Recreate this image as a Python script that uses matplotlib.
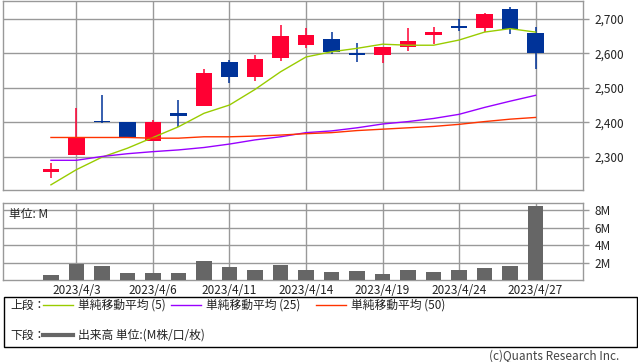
import matplotlib
matplotlib.use("Agg")
import matplotlib.pyplot as plt
from matplotlib.lines import Line2D
from matplotlib.patches import Rectangle

plt.rcParams["font.family"] = ["Noto Sans CJK JP", "DejaVu Sans"]

dates = ["3/31", "4/3", "4/4", "4/5", "4/6", "4/7", "4/10", "4/11", "4/12", "4/13",
         "4/14", "4/17", "4/18", "4/19", "4/20", "4/21", "4/24", "4/25", "4/26", "4/27"]
opens = [2257, 2305, 2405, 2401, 2347, 2427, 2447, 2574, 2532, 2586,
         2624, 2640, 2601, 2595, 2617, 2653, 2678, 2673, 2727, 2658]
highs = [2283, 2442, 2480, 2401, 2407, 2464, 2554, 2580, 2594, 2681,
         2672, 2660, 2630, 2617, 2673, 2675, 2698, 2715, 2735, 2675]
lows = [2240, 2305, 2399, 2357, 2347, 2386, 2447, 2514, 2520, 2577,
        2615, 2599, 2574, 2572, 2606, 2627, 2664, 2660, 2656, 2555]
closes = [2266, 2358, 2400, 2358, 2401, 2418, 2542, 2532, 2583, 2649,
          2652, 2604, 2596, 2617, 2635, 2660, 2674, 2712, 2669, 2600]
ma5 = [2219, 2263, 2299, 2325, 2356, 2387, 2426, 2450, 2495, 2546,
       2589, 2604, 2614, 2626, 2623, 2623, 2638, 2661, 2671, 2661]
ma25 = [2290, 2290, 2301, 2309, 2315, 2320, 2327, 2337, 2349, 2358,
        2370, 2375, 2384, 2395, 2402, 2411, 2423, 2443, 2461, 2478]
ma50 = [2356, 2356, 2356, 2356, 2354, 2354, 2358, 2358, 2360, 2363,
        2367, 2370, 2376, 2380, 2384, 2388, 2394, 2402, 2409, 2414]
volume_m = [0.54, 1.81, 1.58, 0.77, 0.77, 0.77, 2.15, 1.46, 1.12, 1.69,
            1.12, 0.88, 1.0, 0.65, 1.12, 0.88, 1.12, 1.35, 1.58, 8.5]
tick_idx = [1, 4, 7, 10, 13, 16, 19]
tick_labels = ["2023/4/3", "2023/4/6", "2023/4/11", "2023/4/14",
               "2023/4/19", "2023/4/24", "2023/4/27"]
price_ticks = [2300, 2400, 2500, 2600, 2700]
vol_ticks = [2, 4, 6, 8]

UP = "#ff0033"
DOWN = "#003399"
GRID = "#999999"
TXT = "#222222"
FS = 8.5

W, H = 638, 362
fig = plt.figure(figsize=(W / 100, H / 100), dpi=100)


def box(l, t, r, b):
    return [l / W, 1 - b / H, (r - l) / W, (b - t) / H]


ax = fig.add_axes(box(3, 1, 583, 190))
axv = fig.add_axes(box(3, 202.5, 583, 280))

x = list(range(len(dates)))
for i in x:
    o, c = opens[i], closes[i]
    col = UP if c >= o else DOWN
    ax.vlines(i, lows[i], highs[i], color=col, lw=1.1, zorder=3)
    ax.bar(i, max(abs(c - o), 4), bottom=min(o, c), width=0.66, color=col, zorder=4)

ax.plot(x, ma5, color="#99cc00", lw=1, zorder=5)
ax.plot(x, ma25, color="#9900ff", lw=1, zorder=5)
ax.plot(x, ma50, color="#ff3300", lw=1, zorder=5)

ax.set_xlim(-1.88, 20.86)
ax.set_ylim(2204, 2751)
ax.set_xticks(tick_idx)
ax.set_xticklabels([])
ax.set_yticks(price_ticks)
ax.set_yticklabels([f"{v:,}" for v in price_ticks])

axv.bar(x, volume_m, width=0.6, color="#666666", zorder=3)
axv.set_xlim(-1.88, 20.86)
axv.set_ylim(0, 8.9)
axv.set_xticks(tick_idx)
axv.set_xticklabels(tick_labels)
axv.set_yticks(vol_ticks)
axv.set_yticklabels([f"{v}M" for v in vol_ticks])
axv.text(0.01, 0.93, "単位: M", transform=axv.transAxes, fontsize=FS,
         ha="left", va="top", color=TXT, zorder=5)

for a in (ax, axv):
    a.grid(True, color=GRID, lw=1, zorder=0)
    a.set_axisbelow(True)
    a.yaxis.tick_right()
    a.tick_params(axis="y", length=4.5, width=1, color=GRID, pad=4,
                  labelsize=FS, labelcolor=TXT)
    a.tick_params(axis="x", length=0, pad=3, labelsize=FS, labelcolor=TXT)
    for s in a.spines.values():
        s.set_color(GRID)
        s.set_linewidth(1)

# legend box
fig.patches.append(Rectangle((3.5 / W, 1 - 346.5 / H), 633 / W, 50 / H,
                             transform=fig.transFigure, fill=False,
                             edgecolor="#000000", lw=1))
y1 = 1 - 305 / H
y2 = 1 - 335 / H
fig.text(10 / W, y1, "上段：", fontsize=FS, va="center", color=TXT)
for x0, col, label in [(43, "#99cc00", "単純移動平均 (5)"),
                       (171, "#9900ff", "単純移動平均 (25)"),
                       (316, "#ff3300", "単純移動平均 (50)")]:
    fig.add_artist(Line2D([x0 / W, (x0 + 30) / W], [y1, y1], color=col, lw=1,
                          transform=fig.transFigure))
    fig.text((x0 + 35) / W, y1, label, fontsize=FS, va="center", color=TXT)
fig.text(10 / W, y2, "下段：", fontsize=FS, va="center", color=TXT)
fig.add_artist(Line2D([43 / W, 73 / W], [y2, y2], color="#666666", lw=3,
                      transform=fig.transFigure))
fig.text(78 / W, y2, "出来高 単位:(M株/口/枚)", fontsize=FS, va="center", color=TXT)
fig.text(619 / W, 1 - 356 / H, "(c)Quants Research Inc.", fontsize=FS,
         ha="right", va="center", color="#444444")

fig.savefig("out.png", dpi=100)
